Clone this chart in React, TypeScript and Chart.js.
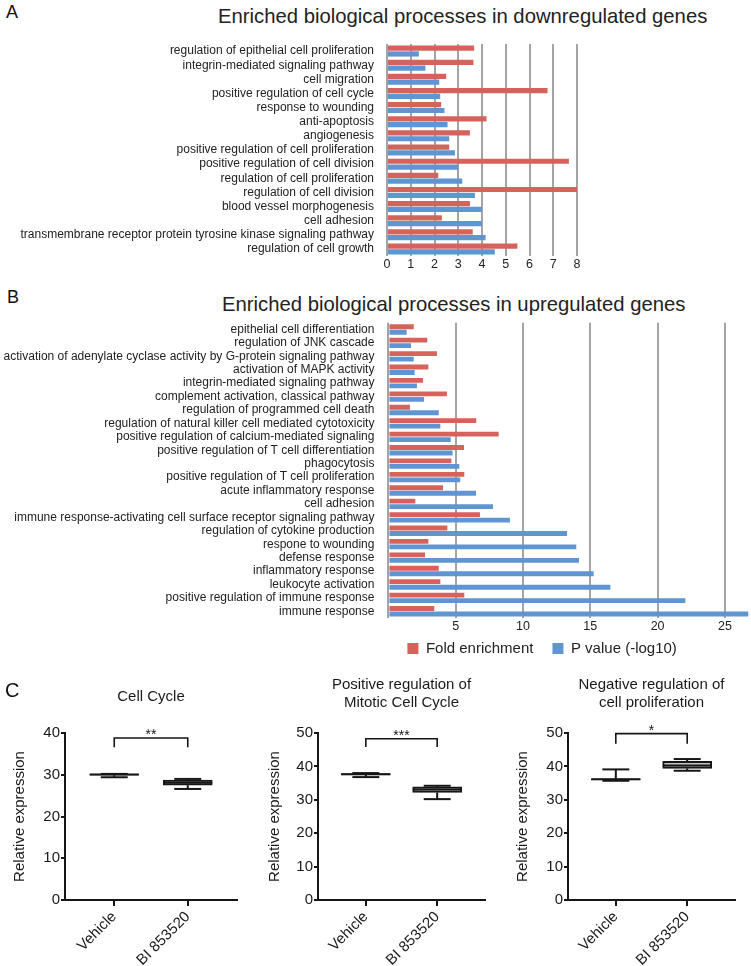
import React, { useEffect, useRef } from 'react';
import { Chart, registerables } from 'chart.js';

Chart.register(...registerables);

const FONT = '"Liberation Sans", Arial, Helvetica, sans-serif';
Chart.defaults.font.family = FONT;
Chart.defaults.color = '#1a1a1a';

const RED = '#d6625c';
const BLUE = '#5f95d2';
const GRID = '#a4a4a4';
const INK = '#161616';

// ---------- Panel A: downregulated genes ----------
const downCategories = [
  'regulation of epithelial cell proliferation',
  'integrin-mediated signaling pathway',
  'cell migration',
  'positive regulation of cell cycle',
  'response to wounding',
  'anti-apoptosis',
  'angiogenesis',
  'positive regulation of cell proliferation',
  'positive regulation of cell division',
  'regulation of cell proliferation',
  'regulation of cell division',
  'blood vessel morphogenesis',
  'cell adhesion',
  'transmembrane receptor protein tyrosine kinase signaling pathway',
  'regulation of cell growth',
];
const downFold = [3.67, 3.64, 2.49, 6.76, 2.28, 4.19, 3.49, 2.62, 7.66, 2.16, 8.0, 3.49, 2.31, 3.61, 5.49];
const downPValue = [1.34, 1.62, 2.2, 2.24, 2.42, 2.55, 2.62, 2.86, 3.0, 3.17, 3.7, 3.99, 3.99, 4.15, 4.54];
const downTicks = [0, 1, 2, 3, 4, 5, 6, 7, 8];

// ---------- Panel B: upregulated genes ----------
const upCategories = [
  'epithelial cell differentiation',
  'regulation of JNK cascade',
  'activation of adenylate cyclase activity by G-protein signaling pathway',
  'activation of MAPK activity',
  'integrin-mediated signaling pathway',
  'complement activation, classical pathway',
  'regulation of programmed cell death',
  'regulation of natural killer cell mediated cytotoxicity',
  'positive regulation of calcium-mediated signaling',
  'positive regulation of T cell differentiation',
  'phagocytosis',
  'positive regulation of T cell proliferation',
  'acute inflammatory response',
  'cell adhesion',
  'immune response-activating cell surface receptor signaling pathway',
  'regulation of cytokine production',
  'respone to wounding',
  'defense response',
  'inflammatory response',
  'leukocyte activation',
  'positive regulation of immune response',
  'immune response',
];
const upFold = [1.88, 2.89, 3.61, 2.97, 2.57, 4.35, 1.6, 6.53, 8.19, 5.62, 4.68, 5.64, 4.06, 2.0, 6.8, 4.38, 2.97, 2.72, 3.74, 3.86, 5.64, 3.41];
const upPValue = [1.36, 1.68, 1.88, 1.95, 2.12, 2.65, 3.74, 3.86, 4.63, 4.77, 5.27, 5.34, 6.51, 7.77, 9.03, 13.27, 13.96, 14.16, 15.25, 16.49, 22.06, 26.74];
const upTicks = [0, 5, 10, 15, 20, 25];
const seriesNames = ['Fold enrichment', 'P value (-log10)'];

// ---------- Panel C: box plots ----------
const groups = ['Vehicle', 'BI 853520'];
// [min, q1, median, q3, max]
const cellCycleStats = [
  [29.4, 29.9, 30.05, 30.15, 30.2],
  [26.6, 27.5, 28.1, 28.7, 29.0],
];
const mitoticStats = [
  [36.8, 37.45, 37.65, 37.85, 38.0],
  [30.2, 32.2, 33.1, 33.9, 34.2],
];
const negProlifStats = [
  [35.7, 35.95, 36.15, 36.3, 39.1],
  [38.7, 39.4, 40.3, 41.5, 42.2],
];
const boxTitles = [['Cell Cycle'], ['Positive regulation of', 'Mitotic Cell Cycle'], ['Negative regulation of', 'cell proliferation']];
const boxYMax = [40, 50, 50];
const sigLabels = ['**', '***', '*'];
const sigTop = [38.8, 48.3, 49.8];
const sigLeg = [36.6, 45.8, 46.8];

function ChartBox({ left, top, width, height, make }: any) {
  const ref = useRef<HTMLCanvasElement>(null);
  useEffect(() => {
    const chart = new Chart(ref.current as HTMLCanvasElement, make());
    return () => chart.destroy();
  }, []);
  return (
    <canvas
      ref={ref}
      width={width}
      height={height}
      style={{ position: 'absolute', left, top, width, height, display: 'block' }}
    />
  );
}

const makeDown = () => ({
  type: 'bar',
  data: {
    labels: downCategories,
    datasets: [
      { label: seriesNames[0], data: downFold, backgroundColor: RED, categoryPercentage: 0.82, barPercentage: 0.9 },
      { label: seriesNames[1], data: downPValue, backgroundColor: BLUE, categoryPercentage: 0.82, barPercentage: 0.9 },
    ],
  },
  options: {
    indexAxis: 'y',
    responsive: false,
    animation: false,
    events: [],
    layout: { padding: { top: 14, right: 174, left: 0, bottom: 0 } },
    plugins: { legend: { display: false }, tooltip: { enabled: false } },
    scales: {
      x: {
        type: 'linear',
        min: 0,
        max: 8,
        afterBuildTicks: (s: any) => { s.ticks = downTicks.map((v) => ({ value: v })); },
        afterFit: (s: any) => { s.height = 24; },
        grid: { color: GRID, lineWidth: 2, drawTicks: false },
        border: { display: false },
        ticks: { font: { size: 12.5 }, color: '#222', padding: 1 },
      },
      y: {
        afterFit: (s: any) => { s.width = 387; },
        grid: { display: false },
        border: { display: false },
        ticks: { font: { size: 12 }, color: '#222', padding: 5, autoSkip: false },
      },
    },
  },
});

const makeUp = () => ({
  type: 'bar',
  data: {
    labels: upCategories,
    datasets: [
      { label: seriesNames[0], data: upFold, backgroundColor: RED, categoryPercentage: 0.82, barPercentage: 0.88 },
      { label: seriesNames[1], data: upPValue, backgroundColor: BLUE, categoryPercentage: 0.82, barPercentage: 0.88 },
    ],
  },
  options: {
    indexAxis: 'y',
    responsive: false,
    animation: false,
    events: [],
    layout: { padding: { top: 42.8, right: 0, left: 0, bottom: 14 } },
    plugins: {
      tooltip: { enabled: false },
      legend: {
        display: true,
        position: 'bottom',
        align: 'start',
        fullSize: false,
        labels: { boxWidth: 11, boxHeight: 11, padding: 19, font: { size: 15 }, color: '#222' },
      },
    },
    scales: {
      x: {
        type: 'linear',
        min: 0,
        max: 26.94,
        afterBuildTicks: (s: any) => { s.ticks = upTicks.map((v) => ({ value: v })); },
        afterFit: (s: any) => {
          s.height = 4;
          // let tick labels spill below the thin axis box instead of being clipped
          s._computeLabelArea = () => undefined;
        },
        grid: { color: GRID, lineWidth: 2, drawTicks: false },
        border: { display: false },
        ticks: { font: { size: 12.5 }, color: '#222', padding: 1, callback: (v: any) => (v === 0 ? '' : String(v)) },
      },
      y: {
        afterFit: (s: any) => { s.width = 388.4; },
        grid: { display: false },
        border: { display: false },
        ticks: { font: { size: 12 }, color: '#222', padding: 6, autoSkip: false },
      },
    },
  },
});

function makeBoxPlugin(stats: number[][], label: string, topV: number, legV: number) {
  return {
    id: 'boxWhiskers',
    afterDatasetsDraw(chart: any) {
      const { ctx, scales } = chart;
      const x = scales.x;
      const y = scales.y;
      const meta = chart.getDatasetMeta(0);
      ctx.save();
      ctx.strokeStyle = INK;
      ctx.lineWidth = 2;
      const seg = (x0: number, y0: number, x1: number, y1: number) => {
        ctx.beginPath();
        ctx.moveTo(x0, y0);
        ctx.lineTo(x1, y1);
        ctx.stroke();
      };
      stats.forEach((s, i) => {
        const el = meta.data[i];
        const cx = x.getPixelForValue(i);
        const half = el.width / 2;
        const cap = half * 0.55;
        const [mn, q1, md, q3, mx] = s;
        seg(cx, y.getPixelForValue(q1), cx, y.getPixelForValue(mn));
        seg(cx, y.getPixelForValue(q3), cx, y.getPixelForValue(mx));
        seg(cx - cap, y.getPixelForValue(mn), cx + cap, y.getPixelForValue(mn));
        seg(cx - cap, y.getPixelForValue(mx), cx + cap, y.getPixelForValue(mx));
        seg(cx - half, y.getPixelForValue(md), cx + half, y.getPixelForValue(md));
      });
      const x0 = x.getPixelForValue(0);
      const x1 = x.getPixelForValue(1);
      const yt = y.getPixelForValue(topV);
      const yl = y.getPixelForValue(legV);
      ctx.lineWidth = 1.6;
      ctx.beginPath();
      ctx.moveTo(x0, yl);
      ctx.lineTo(x0, yt);
      ctx.lineTo(x1, yt);
      ctx.lineTo(x1, yl);
      ctx.stroke();
      ctx.fillStyle = INK;
      ctx.font = `14px ${FONT}`;
      ctx.textAlign = 'center';
      ctx.textBaseline = 'alphabetic';
      ctx.fillText(label, (x0 + x1) / 2, yt + 1);
      ctx.restore();
    },
  };
}

function makeBox(idx: number, stats: number[][], yAxisWidth: number, yTitlePad: number, rightPad: number, titlePadTop: number, titlePadBottom: number) {
  return () => ({
    type: 'bar',
    data: {
      datasets: [
        {
          label: boxTitles[idx].join(' '),
          data: stats.map((s, i) => ({ x: i, y: [s[1], s[3]] })),
          backgroundColor: '#c4c4c4',
          borderColor: INK,
          borderWidth: 2,
          borderSkipped: false,
          barThickness: 49,
        },
      ],
    },
    plugins: [makeBoxPlugin(stats, sigLabels[idx], sigTop[idx], sigLeg[idx])],
    options: {
      responsive: false,
      animation: false,
      events: [],
      layout: { padding: { top: 0, right: rightPad, left: 0, bottom: 0 } },
      plugins: {
        legend: { display: false },
        tooltip: { enabled: false },
        title: {
          display: true,
          text: boxTitles[idx],
          fullSize: false,
          color: '#1a1a1a',
          font: { size: 15, weight: 'normal', lineHeight: 1.2 },
          padding: { top: titlePadTop, bottom: titlePadBottom },
        },
      },
      scales: {
        x: {
          type: 'linear',
          offset: false,
          min: -0.67,
          max: 1.67,
          afterBuildTicks: (s: any) => { s.ticks = groups.map((_, i) => ({ value: i })); },
          afterFit: (s: any) => { s.height = 66; },
          grid: { offset: false, drawOnChartArea: false, drawTicks: true, tickLength: 6, color: INK, lineWidth: 2 },
          border: { display: true, color: INK, width: 2 },
          ticks: {
            minRotation: 45,
            maxRotation: 45,
            padding: 2,
            font: { size: 15 },
            color: '#1a1a1a',
            callback: (v: any) => groups[v] ?? '',
          },
        },
        y: {
          min: 0,
          max: boxYMax[idx],
          afterFit: (s: any) => { s.width = yAxisWidth; },
          grid: { drawOnChartArea: false, drawTicks: true, tickLength: 4, color: INK, lineWidth: 2 },
          border: { display: true, color: INK, width: 2 },
          ticks: { stepSize: 10, padding: 1, font: { size: 15 }, color: '#1a1a1a' },
          title: {
            display: true,
            text: 'Relative expression',
            color: '#1a1a1a',
            font: { size: 15, lineHeight: 1.2 },
            padding: { top: yTitlePad, bottom: 0 },
          },
        },
      },
    },
  });
}

const letterStyle = (left: number, top: number, size: number): React.CSSProperties => ({
  position: 'absolute', left, top, fontSize: size, lineHeight: 1, color: '#111', whiteSpace: 'nowrap',
});

export default function App() {
  return (
    <div style={{ position: 'fixed', left: 0, top: 0, width: 751, height: 966, background: '#fff', fontFamily: FONT, overflow: 'hidden' }}>
      <div style={letterStyle(6, 2.6, 18)}>A</div>
      <div style={{ ...letterStyle(218, 6, 20.3), color: '#222' }}>Enriched biological processes in downregulated genes</div>
      <ChartBox left={0} top={30} width={751} height={250} make={makeDown} />

      <div style={letterStyle(7, 287.6, 18)}>B</div>
      <div style={{ ...letterStyle(222, 293.5, 20.3), color: '#222' }}>Enriched biological processes in upregulated genes</div>
      <ChartBox left={0} top={280} width={751} height={400} make={makeUp} />

      <div style={letterStyle(5, 680.4, 20)}>C</div>
      <ChartBox left={0} top={672} width={250} height={294} make={makeBox(0, cellCycleStats, 65, 11, 13, 16, 27)} />
      <ChartBox left={250} top={672} width={250} height={294} make={makeBox(1, mitoticStats, 68, 16, 15, 4, 21)} />
      <ChartBox left={500} top={672} width={251} height={294} make={makeBox(2, negProlifStats, 68, 14, 16, 4, 21)} />
    </div>
  );
}
